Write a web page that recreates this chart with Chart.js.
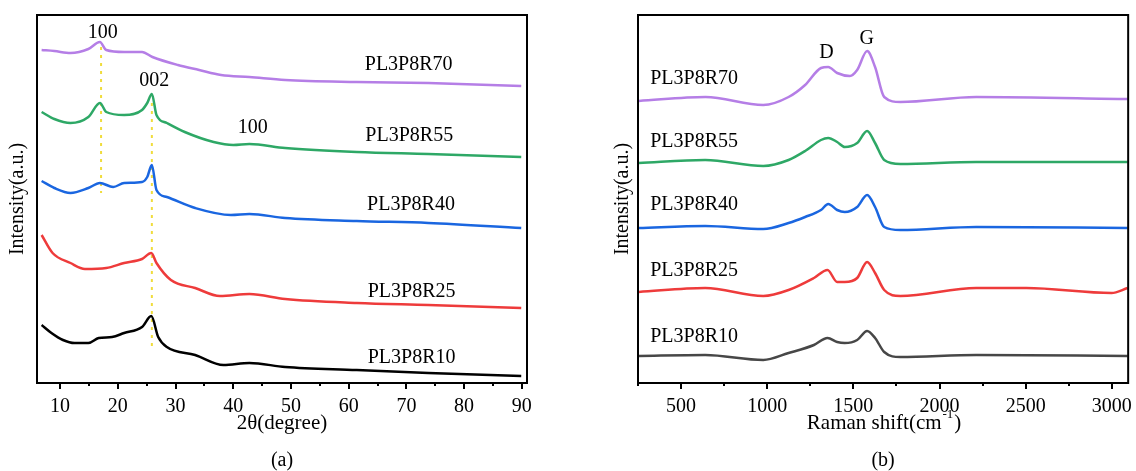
<!DOCTYPE html>
<html>
<head>
<meta charset="utf-8">
<script src="https://cdn.jsdelivr.net/npm/chart.js@4/dist/chart.umd.min.js"></script>
<style>
  body { margin: 0; background: #fff; }
  #wrap { position: relative; width: 1136px; height: 471px; }
  #xrd { position: absolute; left: 0; top: 0; }
  #raman { position: absolute; left: 560px; top: 0; }
</style>
</head>
<body>
<div id="wrap">
  <canvas id="xrd" width="560" height="471"></canvas>
  <canvas id="raman" width="576" height="471"></canvas>
</div>
<script>
// XRD patterns, panel (a) -- 2theta (degree) vs intensity (a.u., offset stacked)
const xrdTicks = [10, 20, 30, 40, 50, 60, 70, 80, 90];
const xrdMinor = [15, 25, 35, 45, 55, 65, 75, 85];

const r70X = [6.8, 9, 11.8, 14.9, 16.9, 18, 21.1, 24.2, 26, 30.4, 34.1, 37.9, 42.8, 49, 61.4, 73.8, 89.9];
const r70Y = [333, 332, 330, 334, 341, 333, 331, 331, 326, 318, 313, 308, 306, 303, 301, 300, 297];

const r55X = [6.8, 9, 11.8, 14.9, 16.9, 18, 21.1, 24.2, 25.1, 25.9, 26.7, 28.5, 31.6, 36.6, 40, 42.8, 49, 61.4, 73.8, 89.9];
const r55Y = [271, 264, 260, 266, 280, 271, 268, 273, 280, 289, 268, 260, 251, 241, 238, 239, 235, 231, 229, 226];

const r40X = [6.8, 9, 11.8, 14.9, 16.9, 19.2, 21.1, 24.2, 25.1, 25.9, 26.7, 28.5, 33.4, 39.6, 42.8, 49, 61.4, 73.8, 89.9];
const r40Y = [202, 195, 190, 195, 200, 196, 200, 201, 206, 218, 193, 186, 175, 168, 169, 165, 162, 160, 155];

const r25X = [6.8, 8.7, 11.8, 14.3, 18, 21.1, 24.2, 25.8, 26.7, 29.2, 33.4, 37.7, 42.8, 49, 61.4, 73.8, 89.9];
const r25Y = [148, 130, 120, 114, 115, 120, 124, 130, 120, 103, 95, 87, 89, 84, 80, 78, 75];

const r10X = [6.8, 8.5, 10.5, 12.5, 14.9, 16.7, 19, 21.1, 24.2, 25.8, 27, 28.5, 33.4, 38.3, 42.8, 49, 61.4, 73.8, 89.9];
const r10Y = [58, 50, 43, 40, 40, 45, 46, 50, 56, 67, 46, 36, 28, 18, 20, 16, 13, 10, 7];

// Raman spectra, panel (b) -- Raman shift (cm-1) vs intensity
const ramanTicks = [500, 1000, 1500, 2000, 2500, 3000];
const ramanMinor = [250, 750, 1250, 1750, 2250, 2750];

const s70X = [255, 642, 977, 1124, 1220, 1312, 1354, 1406, 1480, 1522, 1580, 1626, 1679, 1773, 2213, 3092];
const s70Y = [282, 286, 278, 286, 298, 315, 316, 310, 307, 313, 332, 316, 286, 281, 286, 284];

const s55X = [255, 640, 977, 1124, 1220, 1312, 1354, 1406, 1450, 1522, 1580, 1626, 1679, 1773, 2213, 3092];
const s55Y = [220, 223, 217, 223, 232, 243, 245, 241, 236, 240, 252, 240, 223, 219, 221, 221];

const s40X = [255, 640, 977, 1124, 1220, 1312, 1354, 1406, 1450, 1522, 1580, 1626, 1679, 1773, 2213, 3092];
const s40Y = [155, 157, 154, 160, 166, 173, 179, 173, 171, 176, 188, 176, 156, 153, 156, 155];

const s25X = [255, 640, 977, 1124, 1271, 1350, 1406, 1450, 1522, 1580, 1626, 1679, 1773, 2213, 2504, 2998, 3092];
const s25Y = [91, 95, 87, 93, 105, 113, 101, 101, 105, 121, 110, 93, 87, 95, 95, 90, 95];

const s10X = [255, 640, 977, 1124, 1271, 1350, 1406, 1450, 1522, 1580, 1626, 1679, 1773, 2213, 3092];
const s10Y = [27, 28, 23, 30, 38, 45, 41, 40, 43, 52, 45, 31, 26, 28, 27];

const sampleNames = ['PL3P8R70', 'PL3P8R55', 'PL3P8R40', 'PL3P8R25', 'PL3P8R10'];
const colors = ['#b57ee6', '#2ea866', '#1a66e0', '#ee3b3b', '#000000'];
const ramanColors = ['#b57ee6', '#2ea866', '#1a66e0', '#ee3b3b', '#474747'];

const serif = '"Liberation Serif", "Times New Roman", serif';

function pts(xs, ys) {
    return xs.map((x, i) => ({ x: x, y: ys[i] }));
}

function makeSets(list, cols) {
    return list.map((p, i) => ({
        label: sampleNames[i],
        data: pts(p[0], p[1]),
        borderColor: cols[i],
        borderWidth: 2.5,
        pointRadius: 0,
        cubicInterpolationMode: 'monotone',
        fill: false
    }));
}

// draws frame, ticks, annotations and axis titles
const decorPlugin = {
    id: 'decor',
    beforeDatasetsDraw(chart, args, opts) {
        const c = chart.ctx, xs = chart.scales.x, ys = chart.scales.y;
        c.save();
        c.strokeStyle = '#f0dc3c';
        c.lineWidth = 2;
        c.setLineDash([3, 5]);
        (opts.guides || []).forEach(g => {
            const px = xs.getPixelForValue(g.x);
            c.beginPath();
            c.moveTo(px, ys.getPixelForValue(g.y1));
            c.lineTo(px, ys.getPixelForValue(g.y2));
            c.stroke();
        });
        c.restore();
    },
    afterDraw(chart, args, opts) {
        const c = chart.ctx, a = chart.chartArea, xs = chart.scales.x, ys = chart.scales.y;
        c.save();
        c.strokeStyle = '#000';
        c.lineWidth = 2;
        c.strokeRect(a.left, a.top, a.right - a.left, a.bottom - a.top);
        c.beginPath();
        opts.major.forEach(v => {
            const px = Math.round(xs.getPixelForValue(v));
            c.moveTo(px, a.bottom); c.lineTo(px, a.bottom + 6);
        });
        opts.minor.forEach(v => {
            const px = Math.round(xs.getPixelForValue(v));
            c.moveTo(px, a.bottom); c.lineTo(px, a.bottom + 3);
        });
        c.stroke();

        c.fillStyle = '#000';
        c.textBaseline = 'middle';
        c.font = '20px ' + serif;
        (opts.texts || []).forEach(t => {
            c.textAlign = t.align || 'center';
            c.fillText(t.text, xs.getPixelForValue(t.x), ys.getPixelForValue(t.y));
        });

        // x title, with optional superscript
        const cx = (a.left + a.right) / 2;
        const big = '21px ' + serif, small = '13px ' + serif;
        c.font = big;
        const main = opts.xTitle[0], sup = opts.xTitle[1] || '', tail = opts.xTitle[2] || '';
        const wMain = c.measureText(main).width, wTail = c.measureText(tail).width;
        c.font = small;
        const wSup = c.measureText(sup).width;
        const x0 = cx - (wMain + wSup + wTail) / 2;
        c.textAlign = 'left';
        c.font = big;
        c.fillText(main, x0, 423);
        if (sup) {
            c.font = small;
            c.fillText(sup, x0 + wMain + 1, 415);
            c.font = big;
            c.fillText(tail, x0 + wMain + wSup + 2, 423);
        }
        c.textAlign = 'center';
        c.font = '20px ' + serif;
        c.fillText(opts.caption, cx, 461);

        // y title
        c.translate(opts.yTitleX, (a.top + a.bottom) / 2);
        c.rotate(-Math.PI / 2);
        c.fillText('Intensity(a.u.)', 0, 0);
        c.restore();
    }
};

function makeChart(id, sets, xmin, xmax, ticks, pad, decor) {
    return new Chart(document.getElementById(id), {
        type: 'line',
        data: { datasets: sets },
        plugins: [decorPlugin],
        options: {
            responsive: false,
            animation: false,
            layout: { padding: pad },
            scales: {
                x: {
                    type: 'linear',
                    min: xmin,
                    max: xmax,
                    afterBuildTicks: s => { s.ticks = ticks.map(v => ({ value: v })); },
                    afterFit: s => { s.height = 88; },
                    grid: { display: false },
                    border: { display: false },
                    ticks: {
                        color: '#000',
                        padding: 4,
                        maxRotation: 0,
                        autoSkip: false,
                        font: { family: serif, size: 20 },
                        callback: v => String(v)
                    }
                },
                y: { display: false, min: 0, max: 368 }
            },
            plugins: {
                legend: { display: false },
                tooltip: { enabled: false },
                decor: decor
            }
        }
    });
}

makeChart('xrd',
    makeSets([[r70X, r70Y], [r55X, r55Y], [r40X, r40Y], [r25X, r25Y], [r10X, r10Y]], colors),
    6, 90.9, xrdTicks,
    { left: 37, right: 33, top: 15, bottom: 0 },
    {
        major: xrdTicks, minor: xrdMinor,
        xTitle: ['2\u03b8(degree)'], caption: '(a)', yTitleX: 18,
        guides: [{ x: 17.1, y1: 336, y2: 190 }, { x: 25.9, y1: 280, y2: 35 }],
        texts: [
            { text: '100', x: 17.4, y: 350 },
            { text: '002', x: 26.3, y: 302 },
            { text: '100', x: 43.4, y: 255 },
            { text: sampleNames[0], x: 70.4, y: 318 },
            { text: sampleNames[1], x: 70.5, y: 247 },
            { text: sampleNames[2], x: 70.8, y: 178 },
            { text: sampleNames[3], x: 70.9, y: 91 },
            { text: sampleNames[4], x: 70.9, y: 25 }
        ]
    });

makeChart('raman',
    makeSets([[s70X, s70Y], [s55X, s55Y], [s40X, s40Y], [s25X, s25Y], [s10X, s10Y]], ramanColors),
    250, 3095, ramanTicks,
    { left: 78, right: 6, top: 15, bottom: 0 },
    {
        major: ramanTicks, minor: ramanMinor,
        xTitle: ['Raman shift(cm', '-1', ')'], caption: '(b)', yTitleX: 63,
        texts: [
            { text: 'D', x: 1344, y: 330 },
            { text: 'G', x: 1578, y: 344 },
            { text: sampleNames[0], x: 321, y: 304, align: 'left' },
            { text: sampleNames[1], x: 321, y: 241, align: 'left' },
            { text: sampleNames[2], x: 321, y: 178, align: 'left' },
            { text: sampleNames[3], x: 321, y: 112, align: 'left' },
            { text: sampleNames[4], x: 321, y: 46, align: 'left' }
        ]
    });
</script>
</body>
</html>
